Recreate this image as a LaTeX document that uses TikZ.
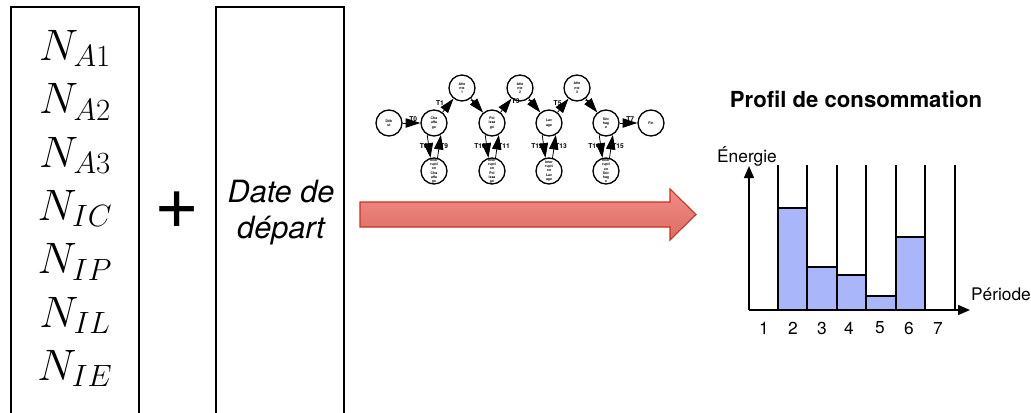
\RequirePackage{fix-cm}
\documentclass[tikz,border=0pt]{standalone}
\usepackage[no-math]{fontspec}
\setmainfont{TeX Gyre Heros}
\setsansfont{TeX Gyre Heros}
\usetikzlibrary{arrows.meta,positioning}
\definecolor{barblue}{HTML}{AAB6FA}
\definecolor{arrowtop}{HTML}{F28C86}
\definecolor{arrowbot}{HTML}{DC6C64}
\definecolor{arrowedge}{HTML}{C8321E}
\tikzset{
  column/.style={draw=black,line width=0.8pt,minimum width=96pt,minimum height=318pt,inner sep=0pt},
  listtext/.style={align=center,inner sep=0pt,font=\fontsize{33}{40}\selectfont},
  datetext/.style={align=center,inner sep=0pt,font=\itshape\fontsize{23}{27}\selectfont},
  plussign/.style={inner sep=0pt,font=\fontsize{58}{60}\selectfont},
  state/.style={circle,draw=black,line width=1pt,minimum size=19.5pt,inner sep=0pt,align=center,font=\bfseries\fontsize{2.6}{3.2}\selectfont},
  trans/.style={-{Triangle[length=11pt,width=7pt]},line width=0.6pt},
  tlabel/.style={inner sep=0.5pt,font=\bfseries\fontsize{5}{6}\selectfont},
  gridline/.style={line width=0.8pt},
  bar/.style={draw=black,line width=0.8pt,fill=barblue},
  axis/.style={-{Triangle[length=9pt,width=7.5pt]},line width=1.1pt},
  axislabel/.style={inner sep=0pt,font=\fontsize{13}{15}\selectfont},
  charttitle/.style={inner sep=0pt,font=\bfseries\fontsize{16.6}{19}\selectfont},
  bigarrow/.style={draw=arrowedge,line width=0.8pt,top color=arrowtop,bottom color=arrowbot}
}
\begin{document}
\begin{tikzpicture}[x=0.75pt,y=-0.75pt]
\useasboundingbox (0,0) rectangle (1031,412);
\clip (0,0) rectangle (1031,412);

% inputs
\node[column] (params) at (75,219) {};
\node[listtext,anchor=north] (list) at (75,30)
  {$N_{A1}$\\$N_{A2}$\\$N_{A3}$\\$N_{IC}$\\$N_{IP}$\\$N_{IL}$\\$N_{IE}$};
\node[plussign] (plus) at (177,210) {+};
\node[column] (datebox) at (280,219) {};
\node[datetext,anchor=north] (date) at (281,180) {Date de\\départ};

% simulation arrow
\shade[bigarrow] (360,202) -- (670,202) -- (670,189) -- (696,214.5)
  -- (670,240) -- (670,227) -- (360,227) -- cycle;

% state network
\begin{scope}[on grid]
\node[state] (debut) at (389,123) {Déb\\ut};
\node[state,right=33.75pt of debut] (chauf) {Cha\\uffa\\ge};
\node[state,above right=26.25pt and 21pt of chauf] (att1) {Atte\\nte\\1};
\node[state,below right=26.25pt and 22.5pt of att1] (polis) {Pol\\issa\\ge};
\node[state,above right=26.25pt and 21pt of polis] (att2) {Atte\\nte\\2};
\node[state,below right=26.25pt and 21.75pt of att2] (lavage) {Lav\\age};
\node[state,above right=26.25pt and 21pt of lavage] (att3) {Atte\\nte\\3};
\node[state,below right=26.25pt and 21.75pt of att3] (sechage) {Séc\\hag\\e};
\node[state,right=33.75pt of sechage] (fin) {Fin};
\node[state,below=36pt of chauf] (intchauf) {Inter\\rupti\\on\\Cha\\uffa\\ge};
\node[state,below=36pt of polis] (intpolis) {Inter\\rupti\\on\\Pol\\issa\\ge};
\node[state,below=36pt of lavage] (intlavage) {Inter\\rupti\\on\\Lav\\age};
\node[state,below=36pt of sechage] (intsechage) {Inter\\rupti\\on\\Séc\\hag\\e};
\end{scope}

\draw[trans] (debut) -- node[tlabel,pos=0.6,above] {T0} (chauf);
\draw[trans] (chauf) -- node[tlabel,pos=0.7,left=4pt] {T1} (att1);
\draw[trans] (att1) -- node[tlabel,pos=0.3] {T2} (polis);
\draw[trans] (polis) -- node[tlabel,pos=0.8,right=1pt] {T3} (att2);
\draw[trans] (att2) -- node[tlabel,pos=0.3] {T4} (lavage);
\draw[trans] (lavage) -- node[tlabel,pos=0.7,left=2pt] {T5} (att3);
\draw[trans] (att3) -- node[tlabel,pos=0.3] {T6} (sechage);
\draw[trans] (sechage) -- node[tlabel,pos=0.6,above] {T7} (fin);
\draw[trans] (chauf.240) -- node[tlabel,left] {T8} (intchauf.105);
\draw[trans] (intchauf.75) -- node[tlabel,right] {T9} (chauf.300);
\draw[trans] (polis.240) -- node[tlabel,left] {T10} (intpolis.105);
\draw[trans] (intpolis.75) -- node[tlabel,right] {T11} (polis.300);
\draw[trans] (lavage.240) -- node[tlabel,left] {T12} (intlavage.105);
\draw[trans] (intlavage.75) -- node[tlabel,right] {T13} (lavage.300);
\draw[trans] (sechage.240) -- node[tlabel,left] {T14} (intsechage.105);
\draw[trans] (intsechage.75) -- node[tlabel,right] {T15} (sechage.300);

% consumption profile
\node[charttitle] (title) at (856,99) {Profil de consommation};
\foreach \x in {778,807,837,866,896,925,955}
  \draw[gridline] (\x,165) -- (\x,310);
\foreach \a/\b/\h in {778/807/208,807/837/267,837/866/275,866/896/296,896/925/237}
  \draw[bar] (\a,310) rectangle (\b,\h);
\coordinate (origin) at (749,310);
\coordinate (ytip) at (749,166);
\coordinate (xtip) at (970,310);
\draw[axis] (origin) -- (ytip);
\draw[axis] (origin) -- (xtip);
\node[axislabel] (energie) at (747,156) {Énergie};
\node[axislabel] (periode) at (1001,294) {Période};
\foreach \n/\x in {1/764,2/793,3/822,4/849,5/880,6/909,7/938}
  \node[axislabel] (p\n) at (\x,328) {\n};
\end{tikzpicture}
\end{document}
